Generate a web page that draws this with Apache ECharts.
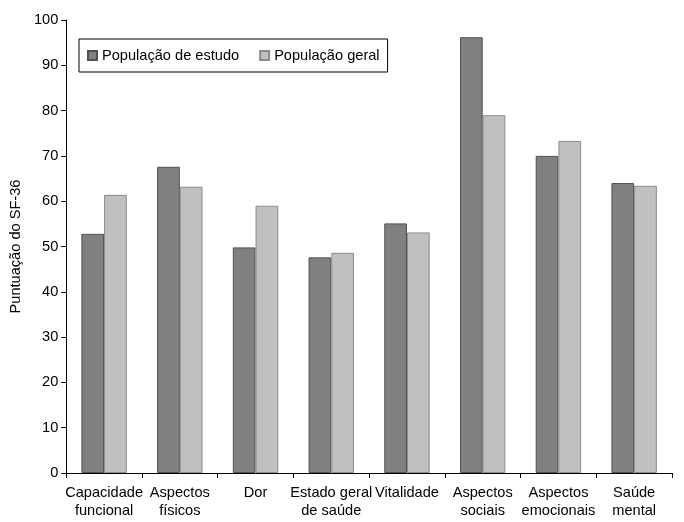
<!DOCTYPE html>
<html><head><meta charset="utf-8">
<script src="https://cdn.jsdelivr.net/npm/echarts@6/dist/echarts.min.js"></script>
<style>html,body{margin:0;padding:0;background:#fff}#c{width:684px;height:522px}</style>
</head><body><div id="c"></div>
<script>
const categories = ["Capacidade\nfuncional","Aspectos\nfísicos","Dor","Estado geral\nde saúde","Vitalidade","Aspectos\nsociais","Aspectos\nemocionais","Saúde\nmental"];
const estudo = [52.8, 67.6, 49.8, 47.6, 55.1, 96.2, 70.0, 64.0];
const geral = [61.4, 63.2, 59.0, 48.6, 53.1, 79.0, 73.3, 63.4];
const yTicks = {min: 0, max: 100, interval: 10};
const font = 'Liberation Sans, Arial, sans-serif';
const chart = echarts.init(document.getElementById('c'));
chart.setOption({
  animation: false,
  textStyle: {fontFamily: font},
  grid: {left: 65, right: 12, top: 20, bottom: 49},
  legend: {
    left: 79, top: 39, orient: 'horizontal',
    padding: [9, 8, 9, 8],
    borderColor: '#000', borderWidth: 1,
    icon: 'rect',
    itemWidth: 9, itemHeight: 9, itemGap: 20,
    textStyle: {fontSize: 14.6, color: '#000', fontFamily: font},
    data: ['População de estudo', 'População geral']
  },
  xAxis: {
    type: 'category', data: categories,
    axisLine: {lineStyle: {color: '#000', width: 1}},
    axisTick: {show: true, length: 5, lineStyle: {color: '#000'}},
    axisLabel: {color: '#000', fontSize: 14.6, lineHeight: 18, margin: 11, interval: 0, fontFamily: font},
    splitLine: {show: false}
  },
  yAxis: {
    type: 'value', min: yTicks.min, max: yTicks.max, interval: yTicks.interval,
    name: 'Puntuação do SF-36', nameLocation: 'middle', nameGap: 39, nameRotate: 90,
    nameTextStyle: {color: '#000', fontSize: 14.6, fontFamily: font},
    axisLine: {show: true, lineStyle: {color: '#000', width: 1}},
    axisTick: {show: true, length: 5, lineStyle: {color: '#000'}},
    axisLabel: {color: '#000', fontSize: 14.6, margin: 8, fontFamily: font},
    splitLine: {show: false}
  },
  series: [
    {name: 'População de estudo', type: 'bar', data: estudo, barGap: '0%', barCategoryGap: '40%',
     itemStyle: {color: '#808080', borderColor: '#505050', borderWidth: 1}},
    {name: 'População geral', type: 'bar', data: geral,
     itemStyle: {color: '#c0c0c0', borderColor: '#8c8c8c', borderWidth: 1}}
  ]
});
</script></body></html>
